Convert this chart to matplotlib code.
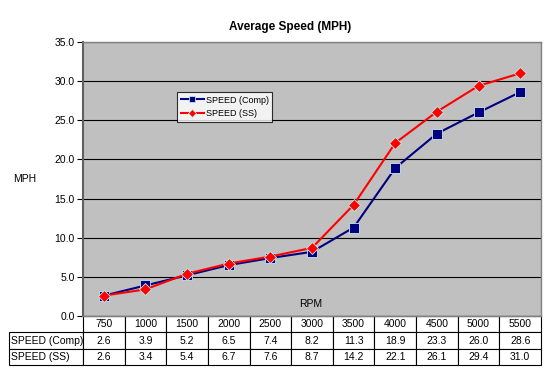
import matplotlib
matplotlib.use("Agg")
import matplotlib.pyplot as plt
import numpy as np

rpm = ["750", "1000", "1500", "2000", "2500", "3000", "3500", "4000", "4500", "5000", "5500"]
speed_comp = [2.6, 3.9, 5.2, 6.5, 7.4, 8.2, 11.3, 18.9, 23.3, 26.0, 28.6]
speed_ss = [2.6, 3.4, 5.4, 6.7, 7.6, 8.7, 14.2, 22.1, 26.1, 29.4, 31.0]
series_names = ["SPEED (Comp)", "SPEED (SS)"]
yticks = [0, 5, 10, 15, 20, 25, 30, 35]

plt.rcParams['font.family'] = ['Liberation Sans', 'DejaVu Sans']

fig = plt.figure(figsize=(5.5, 3.76), dpi=100)
ax = fig.add_axes([83/550, (376-316)/376, 458/550, 274/376])
ax.set_facecolor('#C0C0C0')

x = np.arange(len(rpm))
ax.plot(x, speed_comp, color='#000080', lw=1.5, marker='s', ms=7,
        mfc='#000080', mec='#C8E8E8', mew=0.6, label=series_names[0], zorder=3)
ax.plot(x, speed_ss, color='#FF0000', lw=1.5, marker='D', ms=6,
        mfc='#FF0000', mec='#C8E8E8', mew=0.6, label=series_names[1], zorder=4)

ax.set_xlim(-0.5, len(rpm) - 0.5)
ax.set_ylim(0, 35)
ax.set_yticks(yticks)
ax.set_yticklabels([f"{v:.1f}" for v in yticks], fontsize=7.5)
ax.set_xticks([])
ax.yaxis.grid(True, color='black', lw=0.8)
ax.set_axisbelow(True)
for s in ['top', 'right', 'bottom']:
    ax.spines[s].set_color('#808080')
    ax.spines[s].set_linewidth(1.0)
ax.spines['left'].set_color('#606060')
ax.spines['left'].set_linewidth(1.5)
ax.tick_params(axis='y', length=4, width=0.8, color='black', pad=2)

fig.text(290/550, 1 - 27/376, "Average Speed (MPH)", fontsize=8.5, fontweight='bold',
         ha='center', va='center')
fig.text(25/550, 1 - 179/376, "MPH", fontsize=7.5, ha='center', va='center')
fig.text(311/550, 1 - 304/376, "RPM", fontsize=7.5, ha='center', va='center')

leg = ax.legend(loc='upper left', bbox_to_anchor=(0.205, 0.8175), borderaxespad=0,
                fontsize=6.5, frameon=True, fancybox=False, edgecolor='black',
                handlelength=2.6, handletextpad=0.2, borderpad=0.4, labelspacing=0.5,
                markerscale=0.7)
leg.get_frame().set_linewidth(0.8)

cell_text = [[series_names[0]] + [f"{v:.1f}" for v in speed_comp],
             [series_names[1]] + [f"{v:.1f}" for v in speed_ss]]
col_labels = [""] + rpm
lab_w = 74 / 532
dat_w = (1 - lab_w) / len(rpm)
tbl = ax.table(cellText=cell_text, colLabels=col_labels,
               colWidths=[lab_w] + [dat_w] * len(rpm),
               cellLoc='center',
               bbox=[(9-83)/458, -(365-316)/274, (541-9)/458, (365-316)/274])
tbl.auto_set_font_size(False)
tbl.set_fontsize(7.5)
for (r, c), cell in tbl.get_celld().items():
    cell.set_linewidth(0.8)
    cell.set_edgecolor('black')
    if r == 0 and c == 0:
        cell.visible_edges = ''
    if c == 0 and r > 0:
        cell.get_text().set_horizontalalignment('left')
        cell.PAD = 0.03

fig.savefig("out.png", dpi=100)
